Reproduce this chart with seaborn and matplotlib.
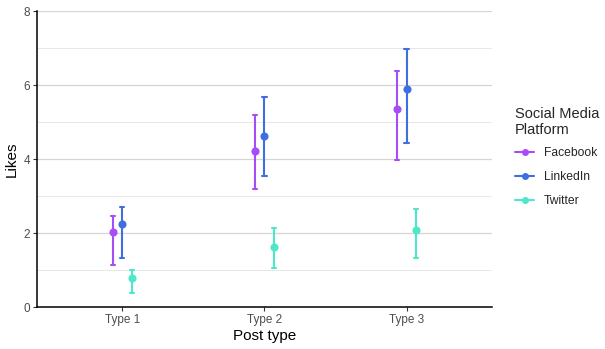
import numpy as np
import pandas as pd
import seaborn as sns
import matplotlib.pyplot as plt
from matplotlib.lines import Line2D

post_types = ['Type 1', 'Type 2', 'Type 3']
platforms = ['Facebook', 'LinkedIn', 'Twitter']
palette = ['#A64DF7', '#3F6EE0', '#4DE8C8']

# mean likes and error bar ends
facebook_mean = [2.04, 4.21, 5.36]
facebook_lo = [1.15, 3.18, 3.97]
facebook_hi = [2.47, 5.18, 6.37]
linkedin_mean = [2.24, 4.63, 5.89]
linkedin_lo = [1.32, 3.54, 4.44]
linkedin_hi = [2.70, 5.68, 6.97]
twitter_mean = [0.78, 1.63, 2.08]
twitter_lo = [0.37, 1.07, 1.32]
twitter_hi = [1.01, 2.14, 2.64]

summary = {
    'Facebook': (facebook_lo, facebook_mean, facebook_hi),
    'LinkedIn': (linkedin_lo, linkedin_mean, linkedin_hi),
    'Twitter': (twitter_lo, twitter_mean, twitter_hi),
}

# long table: lo / mean / hi per group -> median gives the mean, min/max the bar
rows = []
for p in platforms:
    lo, mid, hi = summary[p]
    for i, t in enumerate(post_types):
        for v in (lo[i], mid[i], hi[i]):
            rows.append({'type': t, 'platform': p, 'likes': v})
df = pd.DataFrame(rows)

sns.set_style('white')
plt.rcParams['font.family'] = ['Liberation Sans', 'DejaVu Sans']

fig = plt.figure(figsize=(6.05, 3.49), dpi=100)
ax = fig.add_axes([0.061, 0.12, 0.752, 0.848])

for y in range(1, 9):
    ax.axhline(y, color='#D6D6D6' if y % 2 == 0 else '#E8E8E8',
               lw=0.9 if y % 2 == 0 else 0.7, zorder=0)

sns.pointplot(data=df, x='type', y='likes', hue='platform',
              order=post_types, hue_order=platforms, palette=palette,
              estimator='median', errorbar=lambda x: (x.min(), x.max()),
              dodge=0.134, linestyle='none', capsize=0.03, err_kws={'linewidth': 1.5},
              markersize=3.8, ax=ax, legend=False)

ax.set_xlim(-0.6, 2.6)
ax.set_ylim(0, 8)
ax.set_yticks([0, 2, 4, 6, 8])
ax.set_xlabel('Post type', fontsize=11, color='black', labelpad=2)
ax.set_ylabel('Likes', fontsize=11, color='black', labelpad=3)
ax.tick_params(axis='both', labelsize=8.5, colors='#4D4D4D', length=3, width=0.8,
               left=True, bottom=True, pad=2)
ax.tick_params(axis='both', color='#333333')
for s in ['top', 'right']:
    ax.spines[s].set_visible(False)
for s in ['left', 'bottom']:
    ax.spines[s].set_color('black')
    ax.spines[s].set_linewidth(1.1)

handles = [Line2D([0], [0], color=c, marker='o', markersize=4, lw=1.5) for c in palette]
leg = fig.legend(handles, platforms, title='Social Media\nPlatform',
                 loc='upper left', bbox_to_anchor=(0.851, 0.692), frameon=False,
                 fontsize=8.7, title_fontsize=10.5, handlelength=1.6, handletextpad=0.83,
                 labelspacing=1.0, alignment='left', borderaxespad=0, borderpad=0)
leg.get_title().set_linespacing(1.15)
leg._legend_box.sep = 7

fig.savefig('out.png', dpi=100)
